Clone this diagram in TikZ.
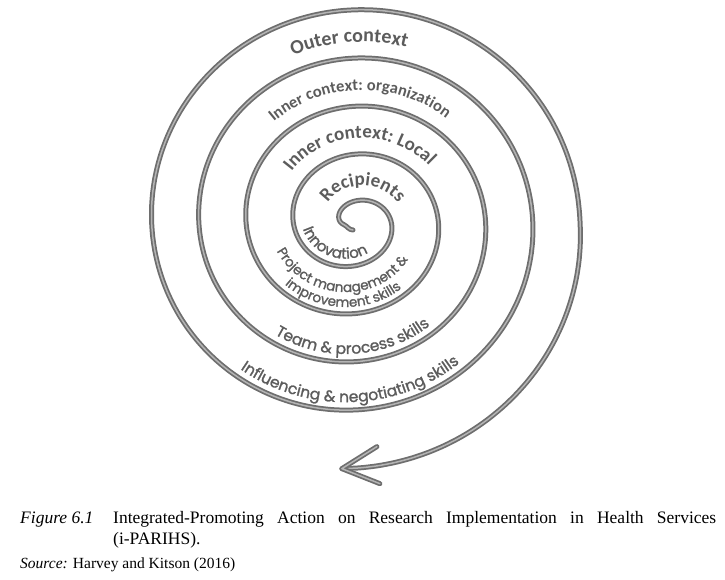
\documentclass[tikz,border=0pt]{standalone}
\usepackage{fontspec}
\setmainfont{Liberation Serif}
\newfontfamily\ufont{Carlito}
\newfontfamily\lfont[FakeBold=1.4]{Poppins}
\usetikzlibrary{decorations.text}
\definecolor{bandout}{RGB}{110,110,110}
\definecolor{bandin}{RGB}{180,180,180}
\definecolor{txt}{RGB}{92,92,92}
\begin{document}
\begin{tikzpicture}[x=1pt,y=1pt,
  declare function={
    rh(\p)=37.2+0.13111*\p+(\p>1440)*(\p-1440)*0.111;
    rv(\p)=rh(\p)-7*rh(\p)/(rh(\p)+15)+\p/300;
  },
  band/.style={draw=bandout, double=bandin, double distance=1.5pt, line width=1.75pt, line cap=round, line join=round},
]
\useasboundingbox (0,0) rectangle (725,580);
% spiral
\coordinate (ctip) at (353,350);
\coordinate (cst) at ({354+rh(-200)*cos(-200)},{358-rv(-200)*sin(-200)});
\draw[band] (ctip) to[out=180,in=-25] (cst) -- plot[domain=-200:1532.8, samples=420, smooth] ({354+rh(\x)*cos(\x)},{358-rv(\x)*sin(\x)}) coordinate (atip);
\coordinate (arm1) at ([shift={(35,22)}]atip);
\coordinate (arm2) at ([shift={(38,-15)}]atip);
\draw[band] (arm1) -- (atip) -- (arm2);
% upper labels
\path[decorate, decoration={text along path, text align=center, text color=txt, text={|\ufont\bfseries\fontsize{20}{20}\selectfont|Outer context}}]
  plot[domain=924:1050, samples=90] ({354+(rh(\x)+16)*cos(\x)},{358-(rv(\x)+16)*sin(\x)});
\path[decorate, decoration={text along path, text align=center, text color=txt, text={|\ufont\bfseries\fontsize{16.5}{17}\selectfont|Inner context{:} organization}}]
  plot[domain=541:716, samples=120] ({354+(rh(\x)+16)*cos(\x)},{358-(rv(\x)+16)*sin(\x)});
\path[decorate, decoration={text along path, text align=center, text color=txt, text={|\ufont\bfseries\fontsize{19}{20}\selectfont|Inner context{:} Local}}]
  plot[domain=178:356, samples=120] ({354+(rh(\x)+16)*cos(\x)},{358-(rv(\x)+16)*sin(\x)});
\path[decorate, decoration={text along path, text align=center, text color=txt, text={|\ufont\bfseries\fontsize{19}{20}\selectfont|Recipients}}]
  plot[domain=-181:-1, samples=120] ({354+(rh(\x)+15)*cos(\x)},{358-(rv(\x)+15)*sin(\x)});
% lower labels
\path[decorate, decoration={text along path, text align=center, text color=txt, text={|\lfont\fontsize{15}{15}\selectfont|Innovation}}]
  plot[domain=187:47, samples=100] ({354+(rh(\x)-8)*cos(\x)},{358-(rv(\x)-8)*sin(\x)});
\path[decorate, decoration={text along path, text align=center, text color=txt, text={|\lfont\fontsize{13.5}{14}\selectfont|Project management {\&}}}]
  plot[domain=535:375, samples=110] ({354+(rh(\x)-22)*cos(\x)},{358-(rv(\x)-22)*sin(\x)});
\path[decorate, decoration={text along path, text align=center, text color=txt, text={|\lfont\fontsize{13.5}{14}\selectfont|improvement skills}}]
  plot[domain=530:376, samples=110] ({354+(rh(\x)-7)*cos(\x)},{358-(rv(\x)-7)*sin(\x)});
\path[decorate, decoration={text along path, text align=center, text color=txt, text={|\lfont\fontsize{15.5}{16}\selectfont|Team {\&} process skills}}]
  plot[domain=872:744, samples=100] ({354+(rh(\x)-8)*cos(\x)},{358-(rv(\x)-8)*sin(\x)});
\path[decorate, decoration={text along path, text align=center, text color=txt, text={|\lfont\fontsize{15.5}{16}\selectfont|Influencing {\&} negotiating skills}}]
  plot[domain=1232:1107, samples=100] ({354+(rh(\x)-8)*cos(\x)},{358-(rv(\x)-8)*sin(\x)});
% caption
\node[anchor=base west, inner sep=0, text width=696pt, align=justify, font=\fontsize{17.5}{21}\selectfont] (cap) at (20,56)
  {\hangindent=93pt\hangafter=1\noindent\makebox[93pt][l]{\itshape Figure 6.1}Integrated-Promoting Action on Research Implementation in Health Services\linebreak (i-PARIHS).\par};
\node[anchor=base west, inner sep=0, font=\fontsize{15.5}{18}\selectfont] (src) at (20,11) {\textit{Source:} Harvey and Kitson (2016)};
\end{tikzpicture}
\end{document}
